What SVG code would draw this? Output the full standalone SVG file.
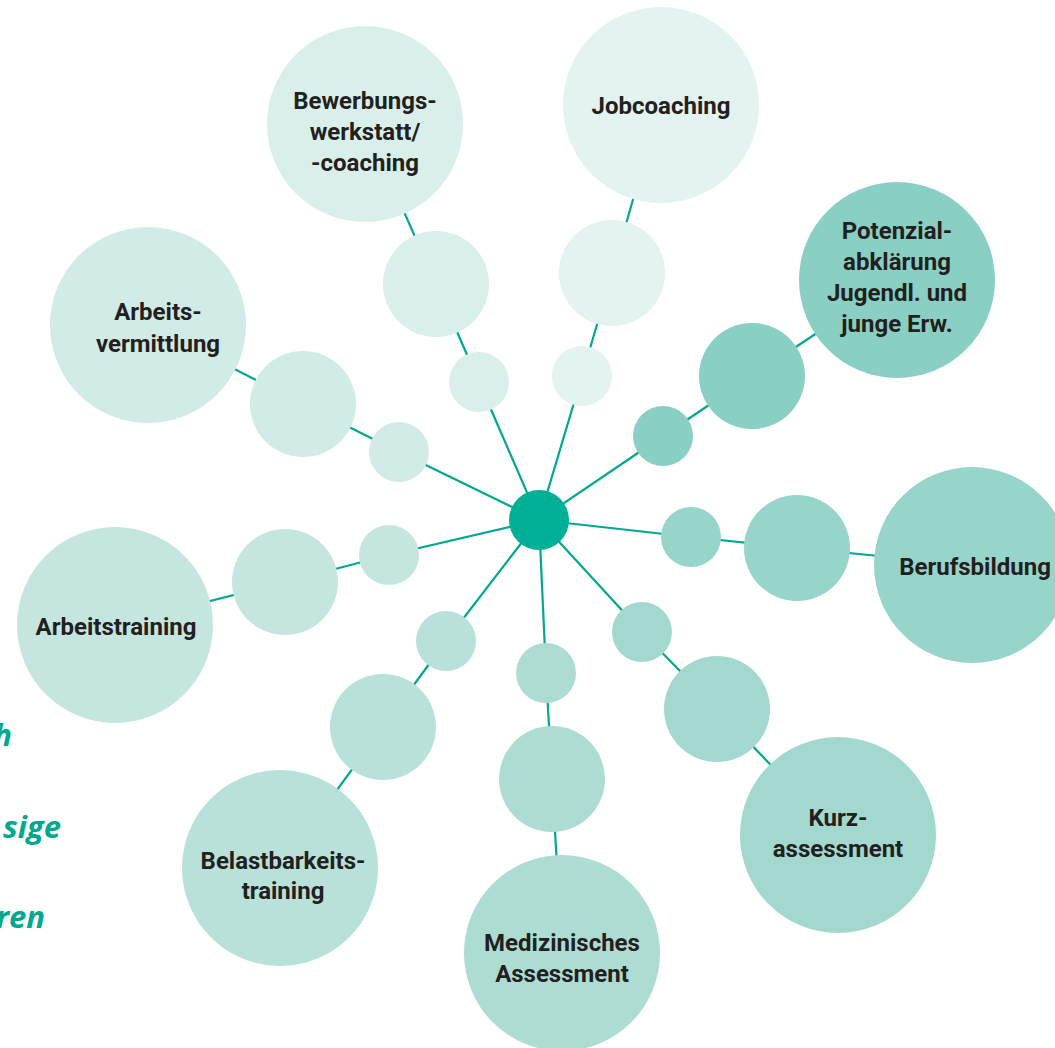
<svg xmlns="http://www.w3.org/2000/svg" width="1055" height="1048" viewBox="0 0 1055 1048">
<style>
.ln{fill:none;stroke:#00a88f;stroke-width:2.2}
.t{font-family:Roboto,"Liberation Sans",sans-serif;font-weight:700;font-size:24px;fill:#231f20;text-anchor:middle}
.side{font-family:"Open Sans","Liberation Sans",sans-serif;font-weight:700;font-style:italic;font-size:31px;fill:#00a890;text-anchor:end}
.c1{fill:#e3f3ef}.c2{fill:#d9efea}.c3{fill:#d1ebe6}.c4{fill:#c5e6df}.c5{fill:#b8e1d9}.c6{fill:#addcd3}.c7{fill:#a3d8ce}.c8{fill:#97d4c9}.c9{fill:#89cfc3}
</style>
<rect width="1055" height="1048" fill="#fff"/>
<g id="side-text">
<text class="side" x="12" y="746">h</text>
<text class="side" x="61" y="838">sige</text>
<text class="side" x="45" y="928">ren</text>
</g>
<g id="connectors">
<polyline class="ln" points="539,520 582,376 612,273 660,105"/>
<polyline class="ln" points="539,520 479,382 436,284 365,124"/>
<polyline class="ln" points="539,520 399,452 303,404 148,325"/>
<polyline class="ln" points="539,520 389,555 285,582 115,625"/>
<polyline class="ln" points="539,520 446,641 383,727 280,868"/>
<polyline class="ln" points="539,520 546,673 552,779 562,953"/>
<polyline class="ln" points="539,520 642,632 717,709 838,835"/>
<polyline class="ln" points="539,520 691,537 797,548 972,565"/>
<polyline class="ln" points="539,520 663,436 752,376 897,280"/>
</g>
<g id="center"><circle cx="539" cy="520" r="30" fill="#00b096"/></g>
<g id="jobcoaching">
<circle class="c1" cx="582" cy="376" r="30"/><circle class="c1" cx="612" cy="273" r="53"/><circle class="c1" cx="661" cy="105" r="98"/>
<text class="t" x="661" y="114">Jobcoaching</text>
</g>
<g id="bewerbung">
<circle class="c2" cx="479" cy="382" r="30"/><circle class="c2" cx="436" cy="284" r="53"/><circle class="c2" cx="365" cy="124" r="98"/>
<text class="t" x="365" y="109">Bewerbungs-</text>
<text class="t" x="365" y="140">werkstatt/</text>
<text class="t" x="365" y="171">-coaching</text>
</g>
<g id="arbeitsvermittlung">
<circle class="c3" cx="399" cy="452" r="30"/><circle class="c3" cx="303" cy="404" r="53"/><circle class="c3" cx="148" cy="325" r="98"/>
<text class="t" x="158" y="320">Arbeits-</text>
<text class="t" x="158" y="352">vermittlung</text>
</g>
<g id="arbeitstraining">
<circle class="c4" cx="389" cy="555" r="30"/><circle class="c4" cx="285" cy="582" r="53"/><circle class="c4" cx="115" cy="625" r="98"/>
<text class="t" x="116" y="635">Arbeitstraining</text>
</g>
<g id="belastbarkeit">
<circle class="c5" cx="446" cy="641" r="30"/><circle class="c5" cx="383" cy="727" r="53"/><circle class="c5" cx="280" cy="868" r="98"/>
<text class="t" x="283" y="869">Belastbarkeits-</text>
<text class="t" x="283" y="899">training</text>
</g>
<g id="medizinisch">
<circle class="c6" cx="546" cy="673" r="30"/><circle class="c6" cx="552" cy="779" r="53"/><circle class="c6" cx="562" cy="953" r="98"/>
<text class="t" x="562" y="951">Medizinisches</text>
<text class="t" x="562" y="982">Assessment</text>
</g>
<g id="kurzassessment">
<circle class="c7" cx="642" cy="632" r="30"/><circle class="c7" cx="717" cy="709" r="53"/><circle class="c7" cx="838" cy="835" r="98"/>
<text class="t" x="838" y="826">Kurz-</text>
<text class="t" x="838" y="857">assessment</text>
</g>
<g id="berufsbildung">
<circle class="c8" cx="691" cy="537" r="30"/><circle class="c8" cx="797" cy="548" r="53"/><circle class="c8" cx="972" cy="565" r="98"/>
<text class="t" x="975" y="575">Berufsbildung</text>
</g>
<g id="potenzial">
<circle class="c9" cx="663" cy="436" r="30"/><circle class="c9" cx="752" cy="376" r="53"/><circle class="c9" cx="897" cy="280" r="98"/>
<text class="t" x="897" y="239">Potenzial-</text>
<text class="t" x="897" y="270">abklärung</text>
<text class="t" x="897" y="301">Jugendl. und</text>
<text class="t" x="897" y="332">junge Erw.</text>
</g>
</svg>
